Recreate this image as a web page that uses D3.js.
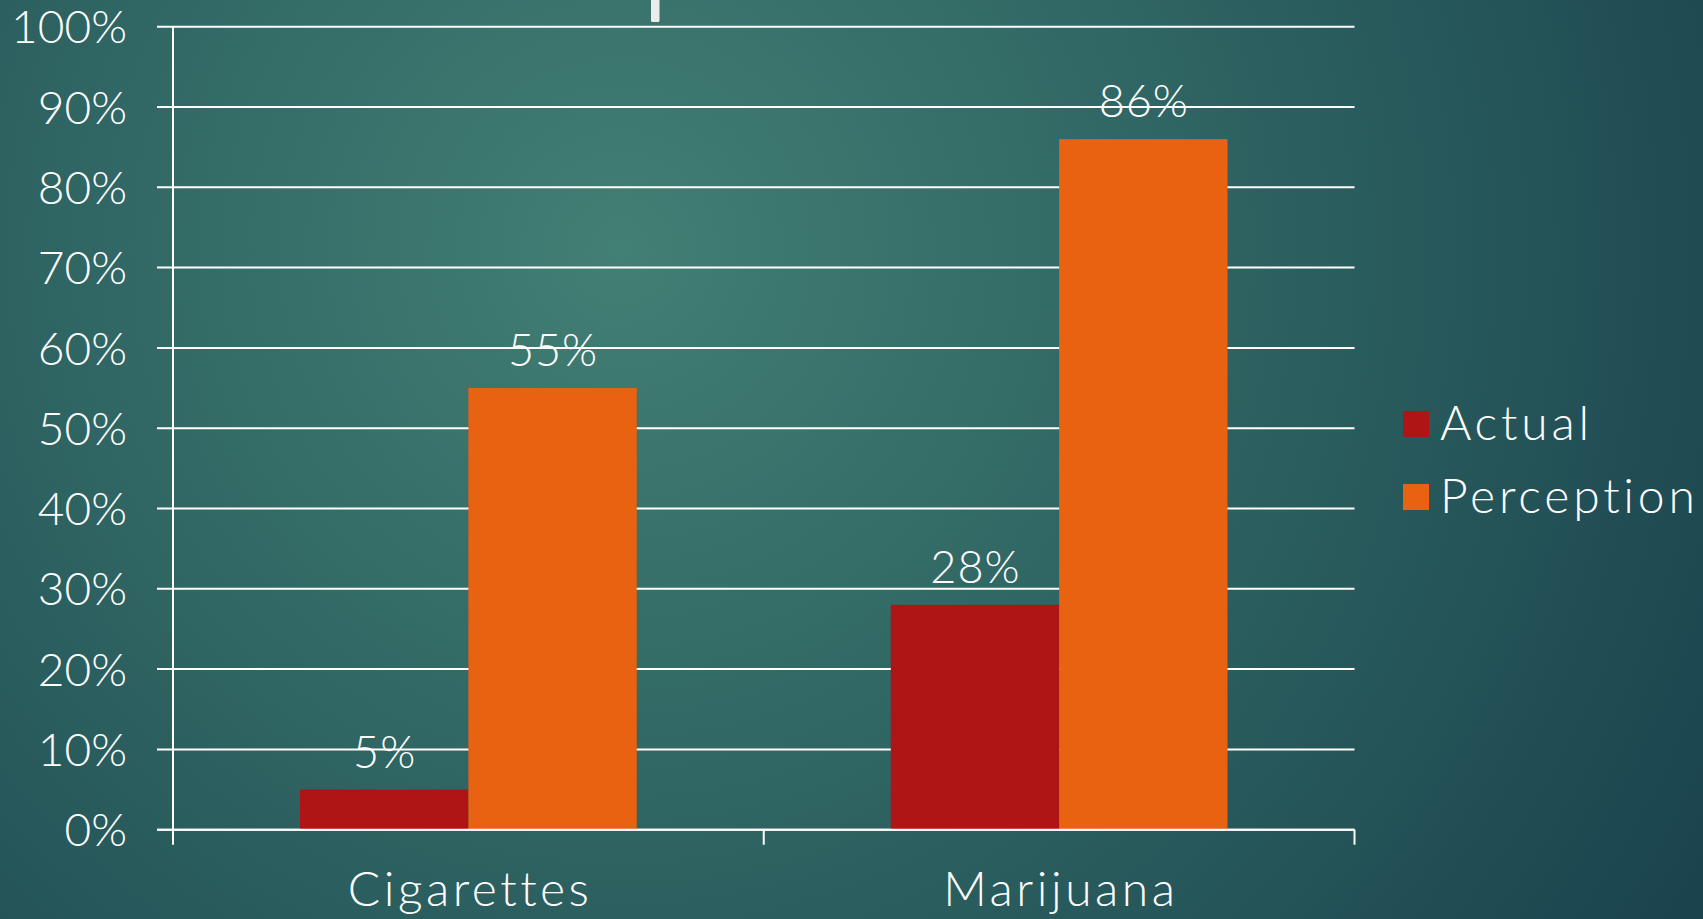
<!DOCTYPE html>
<html>
<head>
<meta charset="utf-8">
<script src="https://cdn.jsdelivr.net/npm/d3@7"></script>
<style>
  html, body { margin: 0; padding: 0; overflow: hidden; }
  svg { display: block; }
  text { font-family: Lato, "Noto Sans", sans-serif; font-weight: 300; fill: #ffffff;
         font-variant-ligatures: none; font-feature-settings: "liga" 0, "clig" 0, "dlig" 0; }
</style>
</head>
<body>
<svg id="chart" width="1703" height="919"></svg>
<script>
const categories = ["Cigarettes", "Marijuana"];
const seriesNames = ["Actual", "Perception"];
const actualValues = [0.05, 0.28];
const perceptionValues = [0.55, 0.86];
const yTicks = [0, 0.1, 0.2, 0.3, 0.4, 0.5, 0.6, 0.7, 0.8, 0.9, 1.0];
const seriesColors = ["#b01515", "#e86212"];

(function () {
const W = 1703, H = 919;
const svg = d3.select("#chart");

// background
const defs = svg.append("defs");
const grad = defs.append("radialGradient")
  .attr("id", "bg").attr("gradientUnits", "userSpaceOnUse")
  .attr("cx", 620).attr("cy", 250).attr("r", 1250);
grad.append("stop").attr("offset", "0%").attr("stop-color", "#427f74");
grad.append("stop").attr("offset", "45%").attr("stop-color", "#2f6563");
grad.append("stop").attr("offset", "100%").attr("stop-color", "#1a434e");
svg.append("rect").attr("width", W).attr("height", H).attr("fill", "url(#bg)");

// fragment of the slide title cut off at top
svg.append("rect").attr("x", 651).attr("y", -4).attr("width", 8.5).attr("height", 26)
  .attr("rx", 1.5).attr("fill", "#ececec");

const pLeft = 173, pRight = 1354.5, pTop = 26.7, pBottom = 829.7;

const x0 = d3.scaleBand().domain(categories).range([pLeft, pRight]).paddingInner(0.43).paddingOuter(0.215);
const x1 = d3.scaleBand().domain(seriesNames).range([0, x0.bandwidth()]);
const y = d3.scaleLinear().domain([0, 1]).range([pBottom, pTop]);

// y labels
const gy = svg.append("g").attr("transform", `translate(${pLeft - 16},0)`)
  .call(d3.axisLeft(y).tickValues(yTicks).tickSize(0).tickFormat(d3.format(".0%")).tickPadding(30));
gy.select(".domain").remove();
gy.selectAll(".tick text").attr("fill", "#fff").style("font-size", "46px")
  .style("font-family", "Lato, sans-serif").style("font-weight", 300).attr("dy", "0.35em");

// gridlines
svg.append("g").selectAll("line").data(yTicks).join("line")
  .attr("x1", pLeft - 16).attr("x2", pRight)
  .attr("y1", d => y(d)).attr("y2", d => y(d))
  .attr("stroke", "#ffffff").attr("stroke-width", 2);

// y axis vertical line
svg.append("line").attr("x1", pLeft).attr("x2", pLeft).attr("y1", pTop).attr("y2", pBottom)
  .attr("stroke", "#ffffff").attr("stroke-width", 2);

// bars
const data = categories.map((c, i) => ({ cat: c, vals: [actualValues[i], perceptionValues[i]] }));
const groups = svg.append("g").selectAll("g").data(data).join("g")
  .attr("transform", d => `translate(${x0(d.cat)},0)`);
groups.selectAll("rect").data(d => d.vals.map((v, j) => ({ v, s: seriesNames[j], j })))
  .join("rect")
  .attr("x", d => x1(d.s)).attr("width", x1.bandwidth())
  .attr("y", d => y(d.v)).attr("height", d => y(0) - y(d.v))
  .attr("fill", d => seriesColors[d.j]);

// x axis line + ticks
const xTickPos = [pLeft].concat(categories.map(c => x0(c) + x0.bandwidth() / 2 + x0.step() / 2));
svg.append("line").attr("x1", pLeft - 16).attr("x2", pRight).attr("y1", pBottom).attr("y2", pBottom)
  .attr("stroke", "#ffffff").attr("stroke-width", 2);
svg.append("g").selectAll("line").data(xTickPos).join("line")
  .attr("x1", d => d).attr("x2", d => d).attr("y1", pBottom).attr("y2", pBottom + 15)
  .attr("stroke", "#ffffff").attr("stroke-width", 2);

// value labels
groups.selectAll("text.val").data(d => d.vals.map((v, j) => ({ v, s: seriesNames[j] })))
  .join("text").attr("class", "val")
  .attr("x", d => x1(d.s) + x1.bandwidth() / 2 + 0.5)
  .attr("y", d => y(d.v) - 22)
  .attr("text-anchor", "middle").style("font-size", "45px").style("letter-spacing", "1px")
  .text(d => d3.format(".0%")(d.v));

// category labels
svg.append("g").selectAll("text").data(categories).join("text")
  .attr("x", d => x0(d) + x0.bandwidth() / 2 + 1.75).attr("y", 906)
  .attr("text-anchor", "middle").style("font-size", "48px").style("letter-spacing", "3.5px")
  .text(d => d);

// legend
const leg = svg.append("g").selectAll("g").data(seriesNames).join("g")
  .attr("transform", (d, i) => `translate(1403,${411 + i * 73})`);
leg.append("rect").attr("width", 26).attr("height", 26).attr("fill", (d, i) => seriesColors[i]);
leg.append("text").attr("x", 37).attr("y", 29).style("font-size", "48px").style("letter-spacing", "3.8px").text(d => d);
})();
</script>
</body>
</html>
